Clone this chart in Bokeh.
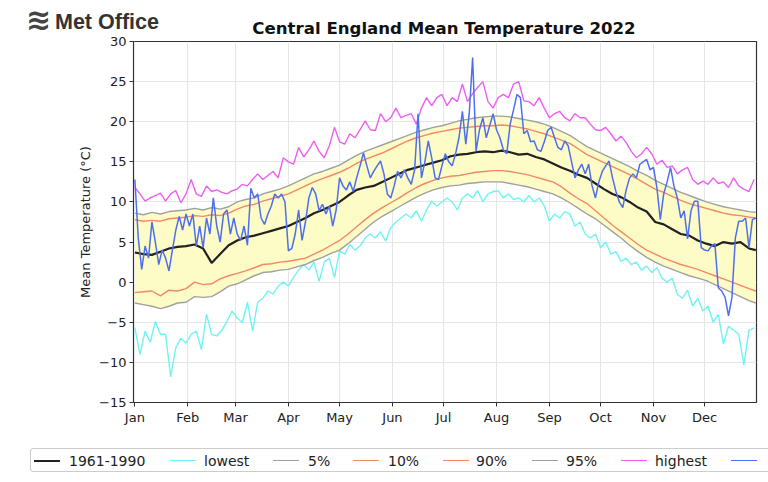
from bokeh.plotting import figure
from bokeh.layouts import column
from bokeh.models import Range1d, FixedTicker, Div
from bokeh.embed import file_html
from bokeh.resources import INLINE

# ---------------- data ----------------
month_names = ["Jan", "Feb", "Mar", "Apr", "May", "Jun",
               "Jul", "Aug", "Sep", "Oct", "Nov", "Dec"]
month_start = [0, 31, 59, 90, 120, 151, 181, 212, 243, 273, 304, 334]
y_ticks = [-15, -10, -5, 0, 5, 10, 15, 20, 25, 30]
title_text = "Central England Mean Temperature 2022"
legend_labels = ["1961-1990", "lowest", "5%", "10%", "90%", "95%", "highest", ""]

# 1961-1990 climatology, read every 5 days (last point = day 364)
clim_mean = [3.7, 3.5, 3.4, 3.8, 4.2, 4.4, 4.5, 4.7, 4.2, 2.4,
             3.5, 4.6, 5.2, 5.6, 5.8, 6.1, 6.4, 6.7, 7.0, 7.5,
             8.0, 8.6, 9.0, 9.5, 10.0, 10.8, 11.5, 11.8, 12.0, 12.5,
             13.0, 13.5, 14.0, 14.3, 14.6, 14.9, 15.2, 15.7, 15.9, 16.0,
             16.2, 16.3, 16.2, 16.4, 16.2, 15.9, 16.0, 15.6, 15.3, 14.8,
             14.3, 13.9, 13.4, 13.0, 12.3, 11.6, 11.0, 10.6, 10.0, 9.3,
             8.8, 7.5, 7.2, 6.6, 6.0, 5.8, 5.2, 4.8, 4.5, 5.0,
             4.8, 5.0, 4.2, 4.0]
pct95 = [8.6, 8.4, 8.7, 8.5, 8.8, 8.9, 9.0, 9.2, 9.0, 9.3,
         9.1, 9.4, 10.0, 10.3, 10.5, 11.0, 11.3, 11.6, 12.0, 12.5,
         13.0, 13.5, 13.8, 14.2, 14.6, 15.2, 15.8, 16.3, 16.7, 17.1,
         17.5, 17.9, 18.3, 18.7, 19.0, 19.3, 19.5, 19.8, 20.1, 20.3,
         20.5, 20.6, 20.7, 20.7, 20.6, 20.4, 20.2, 20.0, 19.7, 19.3,
         18.8, 18.3, 17.6, 16.9, 16.4, 15.9, 15.4, 14.9, 14.4, 13.8,
         13.3, 12.7, 12.2, 11.7, 11.2, 10.8, 10.4, 10.0, 9.7, 9.4,
         9.2, 9.0, 8.8, 8.7]
pct90 = [7.8, 7.6, 7.7, 7.6, 7.9, 8.0, 8.1, 8.3, 8.2, 8.4,
         8.3, 8.6, 9.1, 9.5, 9.7, 10.1, 10.4, 10.7, 11.0, 11.5,
         12.0, 12.5, 12.9, 13.3, 13.7, 14.2, 14.8, 15.3, 15.7, 16.1,
         16.6, 17.1, 17.6, 18.0, 18.3, 18.6, 18.8, 19.0, 19.2, 19.3,
         19.4, 19.5, 19.5, 19.6, 19.5, 19.3, 19.1, 18.8, 18.5, 18.1,
         17.7, 17.3, 16.6, 15.9, 15.4, 14.9, 14.4, 13.9, 13.4, 12.8,
         12.2, 11.6, 11.2, 10.7, 10.2, 9.8, 9.5, 9.2, 8.9, 8.6,
         8.4, 8.3, 8.1, 8.0]
pct10 = [-1.3, -1.2, -1.1, -1.7, -1.0, -1.1, -0.8, 0.0, -0.3, -0.2,
         0.4, 0.8, 1.1, 1.4, 1.8, 2.2, 2.3, 2.5, 2.6, 2.8,
         3.0, 3.5, 4.0, 4.6, 5.2, 6.0, 6.9, 7.8, 8.6, 9.3,
         9.9, 10.5, 11.2, 11.8, 12.3, 12.7, 13.0, 13.2, 13.3, 13.5,
         13.7, 13.8, 13.9, 13.9, 13.8, 13.6, 13.4, 13.1, 12.8, 12.5,
         11.9, 11.1, 10.4, 9.8, 8.9, 8.0, 7.1, 6.3, 5.5, 4.7,
         4.0, 3.5, 3.0, 2.6, 2.2, 1.9, 1.6, 1.2, 0.8, 0.4,
         0.0, -0.4, -0.8, -1.1]
pct05 = [-2.6, -2.8, -3.0, -3.3, -3.0, -2.6, -2.5, -1.8, -1.9, -1.8,
         -1.2, -0.5, -0.2, 0.3, 0.8, 1.2, 1.3, 1.5, 1.6, 1.9,
         2.2, 2.7, 3.1, 3.6, 4.0, 4.8, 5.7, 6.6, 7.5, 8.2,
         8.8, 9.4, 10.0, 10.6, 11.1, 11.5, 11.8, 12.0, 12.1, 12.3,
         12.4, 12.5, 12.5, 12.5, 12.3, 12.1, 11.9, 11.6, 11.3, 11.0,
         10.5, 9.9, 9.2, 8.5, 7.9, 7.1, 6.3, 5.5, 4.6, 3.8,
         3.1, 2.5, 2.0, 1.6, 1.2, 0.8, 0.5, 0.2, -0.3, -0.8,
         -1.3, -1.8, -2.3, -2.6]

# record lowest / highest, read every 3 days
lowest = [-5.7, -9.0, -6.1, -7.5, -4.9, -6.5, -6.5, -11.8, -8.2, -7.0,
          -7.6, -6.5, -6.1, -8.4, -4.0, -6.5, -6.7, -6.0, -4.9, -3.6,
          -4.5, -5.0, -2.5, -6.1, -2.5, -2.0, -1.1, -1.5, -0.5, 0.0,
          -0.5, 0.6, 1.5, 2.2, 1.5, 2.5, 0.1, 2.5, 3.0, 0.6,
          3.9, 3.5, 4.7, 4.0, 4.5, 5.5, 6.0, 5.5, 6.3, 5.1,
          6.8, 7.5, 8.0, 8.5, 8.0, 8.9, 7.6, 9.0, 10.1, 9.5,
          10.0, 10.5, 10.0, 9.0, 10.5, 11.0, 10.5, 11.4, 10.0, 11.0,
          11.3, 11.4, 10.5, 11.0, 10.3, 10.5, 10.0, 10.8, 10.0, 10.5,
          9.5, 7.6, 8.5, 8.0, 8.8, 8.5, 7.0, 7.5, 6.0, 5.5,
          6.0, 4.3, 5.0, 3.5, 3.8, 2.6, 3.0, 2.2, 2.5, 1.5,
          2.0, 1.2, 1.8, 0.5, 0.0, 0.5, -1.5, -2.0, -1.0, -3.0,
          -2.0, -3.6, -3.0, -5.0, -4.0, -7.7, -5.5, -6.0, -6.5, -10.3,
          -6.0, -5.7]
highest = [11.8, 11.0, 10.1, 10.5, 10.8, 11.1, 10.1, 11.0, 11.4, 9.9,
           11.0, 12.8, 11.0, 10.7, 12.0, 11.3, 11.5, 11.2, 11.0, 11.4,
           11.6, 12.2, 12.0, 12.8, 13.5, 12.8, 13.3, 13.8, 13.0, 15.5,
           15.0, 14.7, 16.8, 15.6, 16.5, 17.6, 16.3, 15.5, 17.0, 19.3,
           17.5, 17.2, 18.5, 18.0, 19.0, 20.1, 19.0, 18.9, 21.0, 20.0,
           20.5, 21.7, 20.5, 20.8, 21.0, 19.7, 21.7, 23.0, 22.0, 23.0,
           23.4, 22.0, 23.0, 22.5, 24.7, 22.5, 23.5, 24.3, 25.0, 22.5,
           21.7, 23.0, 23.4, 23.0, 24.7, 25.0, 22.6, 22.5, 22.0, 23.0,
           21.7, 20.5, 21.0, 21.3, 20.5, 20.1, 21.0, 20.5, 20.5, 19.7,
           19.0, 18.9, 19.3, 18.5, 17.6, 18.2, 17.4, 16.3, 15.5, 16.0,
           16.8, 16.0, 14.7, 15.2, 14.3, 14.5, 13.5, 14.0, 14.3, 12.8,
           12.2, 12.6, 12.2, 13.0, 12.3, 12.5, 11.8, 13.0, 12.0, 11.6,
           11.3, 12.8]

# 2022 daily mean, read every 2 days
cet2022 = [12.8, 5.5, 1.6, 4.5, 3.0, 7.5, 5.0, 2.2, 4.0, 3.0,
           1.4, 4.0, 6.5, 8.2, 6.5, 8.5, 7.0, 8.5, 4.5, 7.0,
           4.3, 8.0, 6.0, 10.5, 7.0, 5.0, 8.5, 9.0, 6.0, 8.0,
           6.0, 5.2, 7.0, 4.6, 11.7, 10.5, 11.0, 8.0, 7.2, 8.5,
           9.5, 11.0, 10.5, 11.0, 10.0, 3.9, 4.2, 6.0, 9.0, 5.2,
           7.5, 10.5, 11.8, 11.0, 8.9, 9.7, 8.5, 9.5, 7.0, 9.0,
           13.0, 12.0, 11.5, 12.5, 11.3, 13.0, 14.5, 16.1, 14.5, 13.0,
           13.8, 14.5, 15.1, 13.5, 11.0, 10.5, 12.0, 13.8, 13.0, 14.0,
           13.0, 12.2, 14.0, 21.0, 13.0, 15.0, 17.6, 15.5, 13.0, 12.8,
           14.5, 16.0, 15.0, 14.5, 16.0, 18.0, 21.3, 17.2, 21.0, 28.0,
           16.3, 19.0, 20.5, 18.0, 19.5, 21.0, 19.0, 18.0, 16.5, 16.0,
           19.7, 21.5, 23.4, 23.0, 18.5, 18.9, 17.5, 17.6, 16.5, 16.3,
           17.5, 18.9, 19.3, 18.0, 16.8, 16.5, 17.6, 17.0, 15.0, 13.0,
           14.0, 14.7, 13.5, 14.7, 12.0, 10.5, 12.5, 13.8, 14.5, 15.1,
           13.0, 11.3, 10.0, 9.3, 11.5, 13.0, 13.5, 13.0, 14.7, 15.0,
           15.3, 14.0, 14.3, 11.8, 7.8, 11.0, 12.5, 14.3, 12.0, 10.5,
           8.0, 8.9, 5.4, 8.9, 10.1, 10.1, 4.3, 4.0, 3.9, 4.5,
           4.8, -0.7, -1.1, -1.9, -4.2, -1.9, 5.5, 7.6, 7.6, 8.0,
           4.3, 7.8, 8.0]

days5 = [min(5 * i, 364) for i in range(len(clim_mean))]
days3 = [3 * i for i in range(len(lowest))]
days2 = [2 * i for i in range(len(cet2022))]

FONT = "DejaVu Sans"
W = 768

colors = ["#222222", "#6ff3f3", "#a0a0a0", "#f2876a", "#f2876a", "#a0a0a0", "#ee5ef0", "#4d6ff0"]
widths = [2.2, 1.4, 1.4, 1.4, 1.4, 1.4, 1.4, 1.5]

# ---------------- header (logo + title), overlapped by the chart's transparent border ----------------
header_html = f"""
<div style="position:relative;width:{W}px;height:40px;overflow:hidden;background:white;">
  <span style="position:absolute;left:26px;top:5px;font-family:'DejaVu Sans';font-size:30px;
               font-weight:bold;line-height:30px;color:#444444;">&#8779;</span>
  <span style="position:absolute;left:55px;top:11px;font-family:'Liberation Sans';font-size:21.5px;
               font-weight:bold;line-height:22px;color:#333333;">Met Office</span>
  <span style="position:absolute;left:444px;top:20px;transform:translateX(-50%);white-space:nowrap;
               font-family:'DejaVu Sans';font-size:16.6px;font-weight:bold;line-height:17px;
               color:#111111;">{title_text}</span>
</div>
"""
header = Div(text=header_html, width=W, height=40,
             styles={"margin": "0", "padding": "0", "margin-bottom": "-40px"})

# ---------------- main chart ----------------
p = figure(width=W, height=440, output_backend="svg", toolbar_location=None,
           x_range=Range1d(-0.8, 364.4), y_range=Range1d(-15, 30),
           min_border_left=133, min_border_right=12, min_border_top=41,
           min_border_bottom=38, background_fill_color="white",
           border_fill_alpha=0.0)
p.outline_line_color = "#333333"
p.outline_line_width = 1.2

p.xgrid.ticker = FixedTicker(ticks=month_start)
p.ygrid.ticker = FixedTicker(ticks=y_ticks)
p.xgrid.grid_line_color = "#e6e6e6"
p.ygrid.grid_line_color = "#e6e6e6"

p.xaxis.ticker = FixedTicker(ticks=month_start)
p.xaxis.major_label_overrides = {d: m for d, m in zip(month_start, month_names)}
p.xaxis.major_label_text_align = "left"
p.yaxis.ticker = FixedTicker(ticks=y_ticks)
p.yaxis.axis_label = "Mean Temperature (°C)"
for ax in (p.xaxis, p.yaxis):
    ax.major_label_text_font = FONT
    ax.major_label_text_font_size = "13px"
    ax.major_label_text_color = "#222222"
    ax.axis_label_text_font = FONT
    ax.axis_label_text_font_size = "13px"
    ax.axis_label_text_font_style = "normal"
    ax.axis_label_text_color = "#222222"
    ax.axis_line_color = "#333333"
    ax.major_tick_line_color = "#333333"
    ax.major_tick_out = 4
    ax.major_tick_in = 0
    ax.minor_tick_line_color = None
p.yaxis.major_label_standoff = 3
p.yaxis.axis_label_standoff = 3
p.xaxis.major_label_standoff = 3

p.varea(x=days5, y1=pct05, y2=pct95, fill_color="#fdfbc6", fill_alpha=1.0)
series = [(days5, clim_mean), (days3, lowest), (days5, pct05), (days5, pct10),
          (days5, pct90), (days5, pct95), (days3, highest), (days2, cet2022)]
for (xs, ys), c, w in zip(series, colors, widths):
    p.line(xs, ys, line_color=c, line_width=w)

# ---------------- legend row (below the chart) ----------------
glyph_left = [34, 170, 273, 353, 443, 532, 621, 731]
label_left = [69, 204, 308, 388, 476, 566, 655, 766]
parts = [f'<div style="position:absolute;left:30px;top:8px;width:760px;height:24px;'
         f'border:1px solid #cccccc;border-radius:3px;background:white;"></div>']
for lab, c, w, gx, lx in zip(legend_labels, colors, widths, glyph_left, label_left):
    bw = 2 if w > 2 else 1.5
    parts.append(f'<div style="position:absolute;left:{gx}px;top:{21 - bw / 2}px;width:26px;'
                 f'height:0;border-top:{bw}px solid {c};"></div>')
    if lab:
        parts.append(f'<span style="position:absolute;left:{lx}px;top:13px;white-space:nowrap;'
                     f'font-family:\'DejaVu Sans\';font-size:14px;line-height:16px;'
                     f'color:#222222;">{lab}</span>')
legend_html = (f'<div style="position:relative;width:{W}px;height:42px;overflow:hidden;'
               f'background:white;">' + "".join(parts) + "</div>")
legend_div = Div(text=legend_html, width=W, height=42, styles={"margin": "0", "padding": "0"})

layout = column(header, p, legend_div, spacing=0)
open("out.html", "w").write(file_html(layout, INLINE))
